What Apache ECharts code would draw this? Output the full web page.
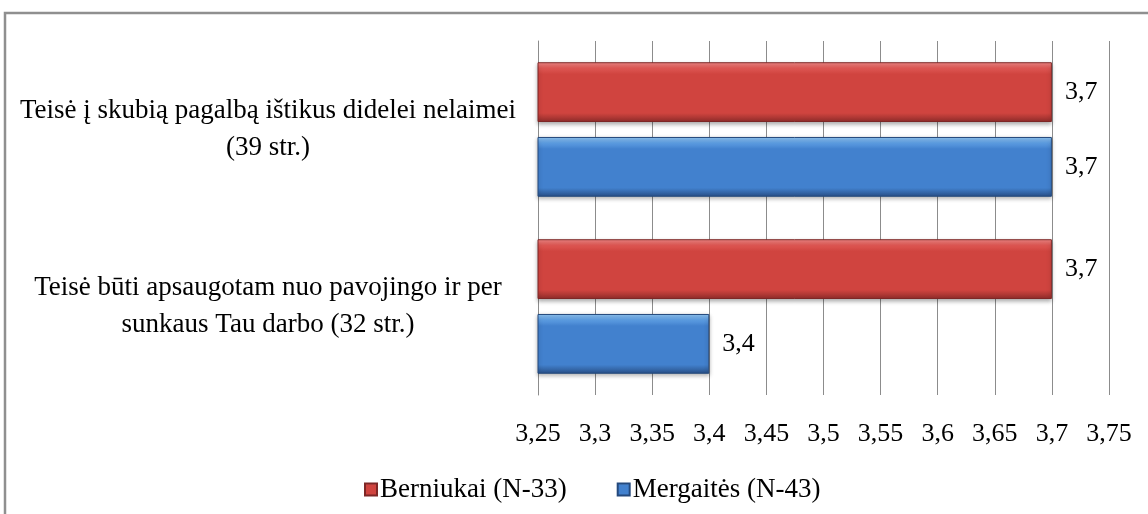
<!DOCTYPE html>
<html>
<head>
<meta charset="utf-8">
<script src="https://cdn.jsdelivr.net/npm/echarts@6/dist/echarts.min.js"></script>
<style>
  html, body { margin: 0; padding: 0; background: #fff; }
  #chart { width: 1148px; height: 514px; }
</style>
</head>
<body>
<div id="chart"></div>
<script>
// duomenys
var categories = [
  'Teisė į skubią pagalbą ištikus didelei nelaimei\n(39 str.)',
  'Teisė būti apsaugotam nuo pavojingo ir per\nsunkaus Tau darbo (32 str.)'
];
var seriesNames = ['Berniukai (N-33)', 'Mergaitės (N-43)'];
var berniukai = [3.7, 3.7];
var mergaites = [3.7, 3.4];
var axisMin = 3.25;
var axisMax = 3.75;
var axisStep = 0.05;

var fontFamily = '"Liberation Serif", "Times New Roman", serif';

function comma(v) {
  return String(+v.toFixed(2)).replace('.', ',');
}

function barGradient(light, mid, main, dark) {
  return new echarts.graphic.LinearGradient(0, 0, 0, 1, [
    { offset: 0, color: light },
    { offset: 0.1, color: mid },
    { offset: 0.2, color: main },
    { offset: 0.85, color: main },
    { offset: 1, color: dark }
  ]);
}

var redColor = barGradient('#f58a88', '#de5753', '#d0443f', '#8e2c2a');
var blueColor = barGradient('#93c8f6', '#5d9de2', '#4281ce', '#284f86');

var chart = echarts.init(document.getElementById('chart'));

var option = {
  backgroundColor: '#fff',
  animation: false,
  graphic: [{
    type: 'rect',
    shape: { x: 5, y: 13, width: 1300, height: 700 },
    style: { fill: 'none', stroke: '#8f8f8f', lineWidth: 2.5 },
    silent: true
  }],
  grid: {
    left: 538,
    right: 39,
    top: 41,
    bottom: 119
  },
  legend: {
    data: seriesNames,
    left: 359,
    top: 471,
    icon: 'rect',
    itemWidth: 12,
    itemHeight: 12,
    itemGap: 50,
    textStyle: { fontFamily: fontFamily, fontSize: 27, color: '#000', padding: [0, 0, 0, -2] }
  },
  xAxis: {
    type: 'value',
    min: axisMin,
    max: axisMax,
    interval: axisStep,
    axisLine: { show: false },
    axisTick: { show: false },
    splitLine: { lineStyle: { color: '#8c8c8c', width: 1 } },
    axisLabel: {
      formatter: comma,
      margin: 26,
      fontFamily: fontFamily,
      fontSize: 26,
      color: '#000'
    }
  },
  yAxis: {
    type: 'category',
    inverse: true,
    data: categories,
    axisLine: { show: true, lineStyle: { color: '#8c8c8c', width: 1 } },
    axisTick: { show: false },
    axisLabel: {
      align: 'center',
      margin: 270,
      lineHeight: 37,
      fontFamily: fontFamily,
      fontSize: 27,
      color: '#000'
    }
  },
  series: [{
    name: seriesNames[0],
    type: 'bar',
    data: berniukai,
    barGap: '25%',
    barCategoryGap: '24%',
    itemStyle: {
      color: redColor,
      borderColor: '#7d2726',
      borderWidth: 1,
      shadowColor: 'rgba(0,0,0,0.3)',
      shadowBlur: 4,
      shadowOffsetY: 2
    },
    label: {
      show: true,
      position: 'right',
      distance: 13,
      formatter: function (p) { return comma(p.value); },
      fontFamily: fontFamily,
      fontSize: 26,
      color: '#000'
    }
  }, {
    name: seriesNames[1],
    type: 'bar',
    data: mergaites,
    barGap: '25%',
    barCategoryGap: '24%',
    itemStyle: {
      color: blueColor,
      borderColor: '#24497c',
      borderWidth: 1,
      shadowColor: 'rgba(0,0,0,0.3)',
      shadowBlur: 4,
      shadowOffsetY: 2
    },
    label: {
      show: true,
      position: 'right',
      distance: 13,
      formatter: function (p) { return comma(p.value); },
      fontFamily: fontFamily,
      fontSize: 26,
      color: '#000'
    }
  }]
};

chart.setOption(option);
</script>
</body>
</html>
